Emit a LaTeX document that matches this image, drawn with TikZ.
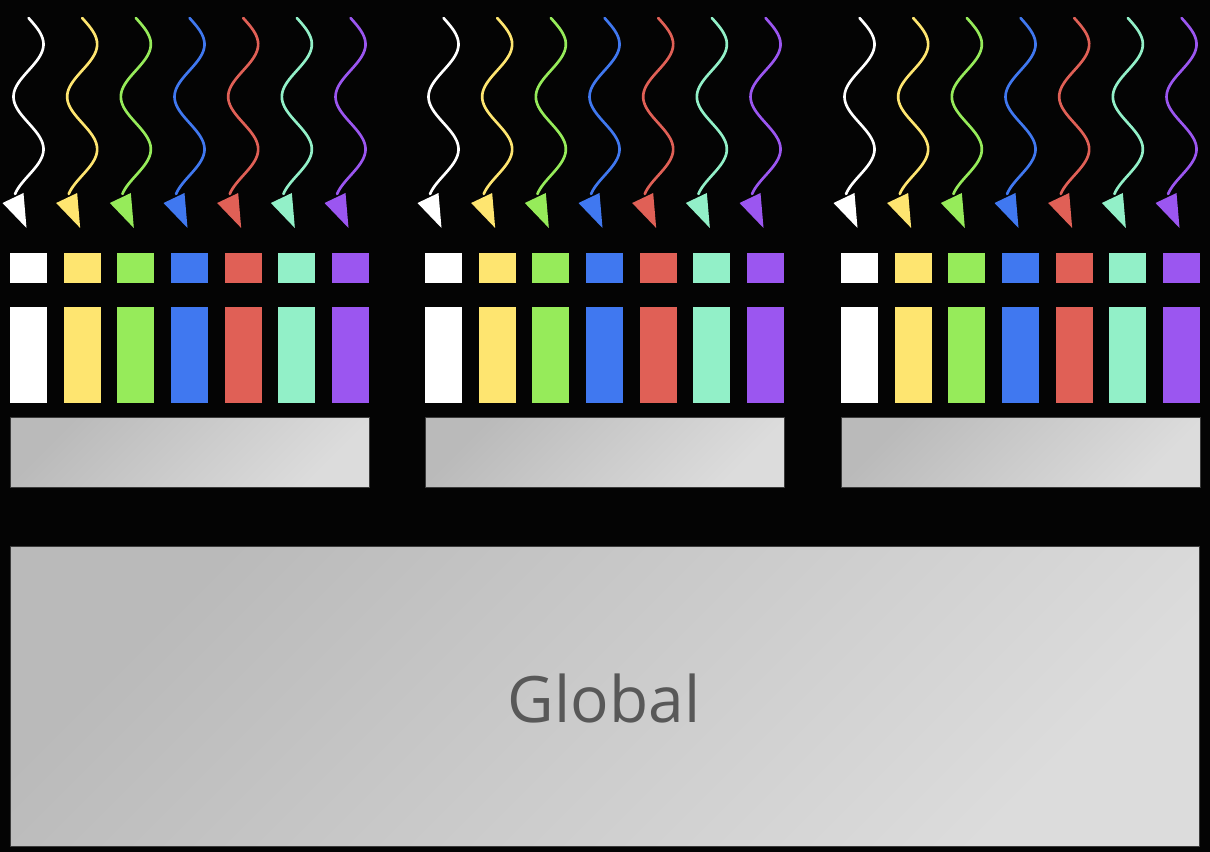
\documentclass[tikz,border=0pt]{standalone}
\usepackage{fontspec}
\setmainfont{Open Sans}
\definecolor{bg}{RGB}{4,4,4}
\definecolor{cwhite}{RGB}{255,255,255}
\definecolor{cyellow}{RGB}{254,229,112}
\definecolor{cgreen}{RGB}{150,235,90}
\definecolor{cblue}{RGB}{64,120,240}
\definecolor{cred}{RGB}{224,96,86}
\definecolor{cteal}{RGB}{146,240,200}
\definecolor{cpurple}{RGB}{155,86,240}
\definecolor{gdark}{RGB}{186,186,186}
\definecolor{glight}{RGB}{220,220,220}
\definecolor{txt}{RGB}{88,88,88}
\tikzset{
  sqbox/.style={anchor=north west, inner sep=0pt, outer sep=0pt, draw=none, minimum width=27.75pt, minimum height=22.5pt},
  barbox/.style={anchor=north west, inner sep=0pt, outer sep=0pt, draw=none, minimum width=27.75pt, minimum height=72pt},
  grayblock/.style={anchor=north west, inner sep=0pt, outer sep=0pt, draw={rgb,255:red,60;green,60;blue,60}, line width=0.5pt, top color=gdark, bottom color=glight, shading angle=45},
  wave/.style={line width=2pt, line cap=round},
}
\begin{document}
\begin{tikzpicture}[x=0.75pt,y=-0.75pt]
\fill[bg] (0,0) rectangle (1210,852);
\useasboundingbox (0,0) rectangle (1210,852);
\foreach \g/\gx in {0/10,1/425,2/841} {
  \foreach \c [count=\i from 0] in {cwhite,cyellow,cgreen,cblue,cred,cteal,cpurple} {
    \pgfmathsetmacro\xl{\gx+\i*53.67}
    \pgfmathsetmacro\cx{\xl+18.5}
    \node[sqbox, fill=\c] (s\g\i) at (\xl,253) {};
    \node[barbox, fill=\c] (b\g\i) at (\xl,307) {};
    \coordinate (w\g\i) at (\cx,18);
    \draw[wave, draw=\c] plot[domain=18:194, samples=70, smooth, variable=\t] ({\cx+15*sin((\t-18)*3.4286)}, \t);
    \fill[\c] ({\cx-26},203) -- ({\cx-5},193) -- ({\cx-2},228) -- cycle;
  }
  \node[grayblock, minimum width=269.25pt, minimum height=52.5pt] (m\g) at (\gx,417) {};
}
\node[grayblock, minimum width=891.75pt, minimum height=225pt] (global) at (10,546) {};
\node[text=txt, font=\fontsize{48}{56}\selectfont, anchor=base] (gl) at (604,722) {Global};
\end{tikzpicture}
\end{document}
